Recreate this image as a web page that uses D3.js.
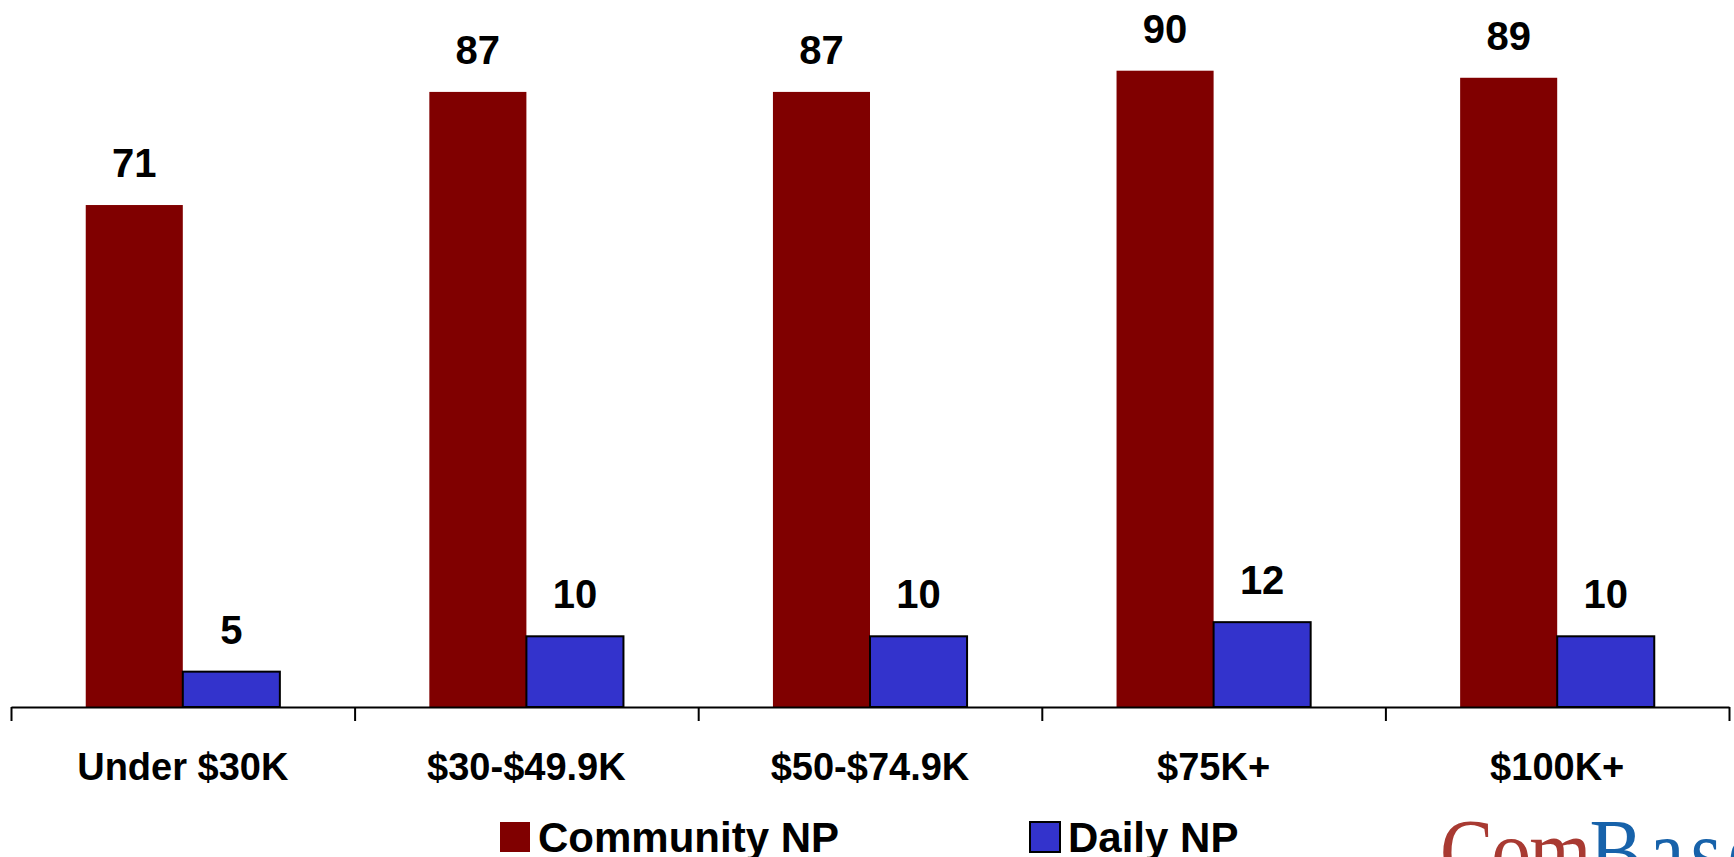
<!doctype html>
<html lang="en">
<head>
<meta charset="UTF-8">
<script src="https://cdnjs.cloudflare.com/ajax/libs/d3/7.8.5/d3.min.js"></script>
<title>Community NP vs Daily NP by income</title>
<style>
  html, body { margin: 0; padding: 0; background: #fff; overflow: hidden; }
  text { font-family: "Liberation Sans", Arial, sans-serif; font-weight: bold; }
</style>
</head>
<body>
<div id="chart"></div>
<script>
    const categories = ["Under $30K", "$30-$49.9K", "$50-$74.9K", "$75K+", "$100K+"];
    const seriesNames = ["Community NP", "Daily NP"];
    const communityNP = [71, 87, 87, 90, 89];
    const dailyNP = [5, 10, 10, 12, 10];

    const W = 1734, H = 857;
    const colors = {"Community NP": "#800000", "Daily NP": "#3333cc"};

    const svg = d3.select("#chart").append("svg")
        .attr("width", W)
        .attr("height", H);

    // plot area
    const left = 11, right = 1729, base = 707;

    const x0 = d3.scaleBand().domain(categories).range([left, right]).padding(0);
    const x1 = d3.scaleBand().domain(seriesNames).range([0, x0.bandwidth()])
        .paddingInner(0).paddingOuter(0.77);
    const y = d3.scaleLinear().domain([0, 100]).range([base, 0]);

    const rows = categories.map((c, i) => ({
        cat: c,
        vals: [
            {name: "Community NP", value: communityNP[i]},
            {name: "Daily NP", value: dailyNP[i]}
        ]
    }));

    const groups = svg.append("g").selectAll("g")
        .data(rows)
        .join("g")
        .attr("transform", d => `translate(${x0(d.cat)},0)`);

    groups.selectAll("rect")
        .data(d => d.vals)
        .join("rect")
        .attr("x", d => x1(d.name))
        .attr("y", d => y(d.value))
        .attr("width", x1.bandwidth())
        .attr("height", d => base - y(d.value))
        .attr("fill", d => colors[d.name])
        .attr("stroke", d => d.name === "Daily NP" ? "#000" : "none")
        .attr("stroke-width", 2);

    groups.selectAll("text.val")
        .data(d => d.vals)
        .join("text")
        .attr("class", "val")
        .attr("x", d => x1(d.name) + x1.bandwidth() / 2)
        .attr("y", d => y(d.value) - 28)
        .attr("text-anchor", "middle")
        .attr("font-size", 40)
        .attr("fill", "#000")
        .text(d => d.value);

    // axis line with boundary ticks
    const tickScale = d3.scaleLinear().domain([0, categories.length]).range([left, right]);
    svg.append("g")
        .attr("transform", `translate(0,${base})`)
        .call(d3.axisBottom(tickScale).ticks(categories.length).tickSizeInner(14).tickSizeOuter(0).tickFormat(""))
        .call(g => g.selectAll("path, line").attr("stroke", "#000").attr("stroke-width", 2));

    // category labels
    svg.append("g")
        .attr("transform", `translate(0,${base})`)
        .call(d3.axisBottom(x0).tickSize(0).tickPadding(46))
        .call(g => g.select(".domain").remove())
        .call(g => g.selectAll("text")
            .attr("font-size", 38)
            .attr("font-family", "'Liberation Sans', Arial, sans-serif")
            .attr("font-weight", "bold")
            .attr("fill", "#000"));

    // legend (bottom edge crops it, as in the original slide)
    const legendX = [500, 1030];
    const legend = svg.append("g").selectAll("g")
        .data(seriesNames)
        .join("g")
        .attr("transform", (d, i) => `translate(${legendX[i]},822)`);
    legend.append("rect")
        .attr("width", 30).attr("height", 30)
        .attr("fill", d => colors[d])
        .attr("stroke", d => d === "Daily NP" ? "#000" : "none")
        .attr("stroke-width", 2);
    legend.append("text")
        .attr("x", 38)
        .attr("y", 30)
        .attr("font-size", 42)
        .attr("fill", "#000")
        .text(d => d);

    // logo, cut by the right and bottom edges
    const logo = svg.append("text")
        .attr("transform", "translate(1440,882) scale(1,1.15)")
        .attr("font-size", 80)
        .style("font-family", "'Liberation Serif', 'DejaVu Serif', serif")
        .style("font-weight", "normal");
    logo.append("tspan").attr("fill", "#a83a32").attr("letter-spacing", -2).text("Com");
    logo.append("tspan").attr("fill", "#1762aa").attr("letter-spacing", 6).text("Base");
</script>
</body>
</html>
